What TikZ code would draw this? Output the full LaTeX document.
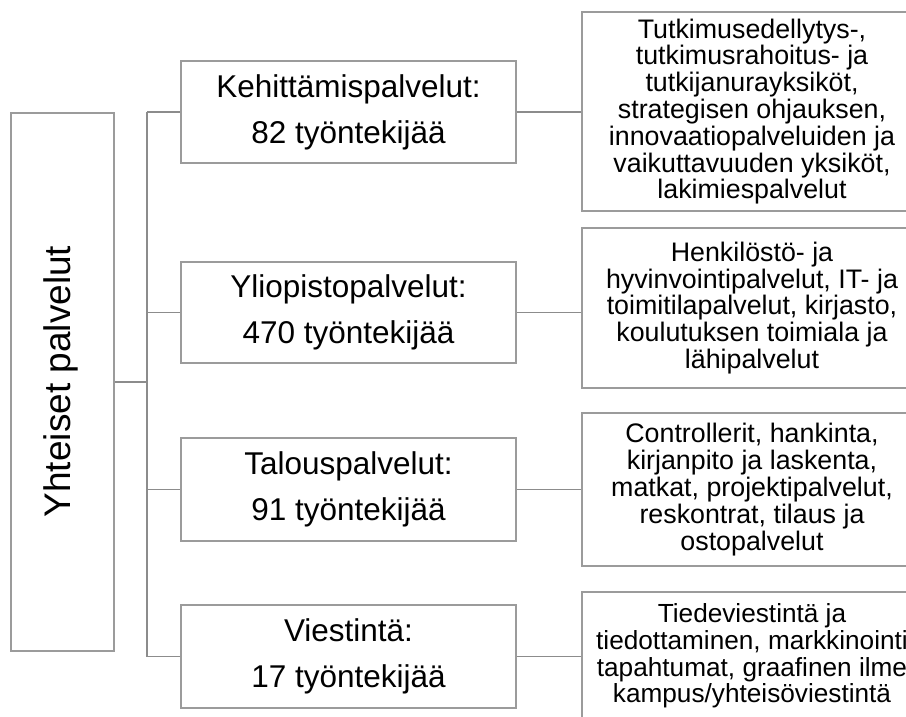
\documentclass[tikz,border=0pt]{standalone}
\usepackage{fontspec}
\setmainfont{Liberation Sans}
\definecolor{boxgray}{RGB}{155,155,155}
\definecolor{linegray}{RGB}{140,140,140}
\tikzset{
  box/.style={draw=boxgray, line width=1.9pt, fill=white, inner sep=0pt, align=center},
  midbox/.style={box, minimum width=335pt, minimum height=102pt,
    font=\fontsize{31.5}{46}\selectfont},
  rbox/.style={box, minimum width=340pt,
    font=\fontsize{26.8}{26.8}\selectfont},
  conn/.style={draw=linegray, line width=1.9pt},
}
\begin{document}
\begin{tikzpicture}[x=1pt,y=-1pt]
\clip (0,0) rectangle (906,716);
\fill[white] (0,0) rectangle (906,716);

% left box
\node[box, minimum width=103pt, minimum height=538pt] (ys) at (62.5,382) {};
\node[rotate=90, inner sep=0pt, font=\fontsize{37}{40}\selectfont] (yst) at (60.5,381.5) {Yhteiset palvelut};

% middle boxes
\node[midbox] (k) at (348.5,112) {Kehittämispalvelut:\\82 työntekijää};
\node[midbox, minimum height=101pt] (y) at (348.5,312.5) {Yliopistopalvelut:\\470 työntekijää};
\node[midbox, minimum height=103pt] (t) at (348.5,489.5) {Talouspalvelut:\\91 työntekijää};
\node[midbox, minimum height=103pt] (v) at (348.5,656.5) {Viestintä:\\17 työntekijää};

% right boxes
\node[rbox, minimum height=199pt] (r1) at (752,111.5) {Tutkimusedellytys-,\\tutkimusrahoitus- ja\\tutkijanurayksiköt,\\strategisen ohjauksen,\\innovaatiopalveluiden ja\\vaikuttavuuden yksiköt,\\lakimiespalvelut};
\node[rbox, minimum height=160pt] (r2) at (752,308) {Henkilöstö- ja\\hyvinvointipalvelut, IT- ja\\toimitilapalvelut, kirjasto,\\koulutuksen toimiala ja\\lähipalvelut};
\node[rbox, minimum height=153pt] (r3) at (752,489.5) {Controllerit, hankinta,\\kirjanpito ja laskenta,\\matkat, projektipalvelut,\\reskontrat, tilaus ja\\ostopalvelut};
\node[rbox, minimum height=128pt, font=\fontsize{26.2}{26.8}\selectfont] (r4) at (752,656) {Tiedeviestintä ja\\tiedottaminen, markkinointi\\tapahtumat, graafinen ilme\\kampus/yhteisöviestintä};

% trunk
\coordinate (trTop) at (147,112);
\coordinate (trBot) at (147,656.5);
\draw[conn] (ys.east) -- (ys.east -| trTop);
\draw[conn] (trTop) -- (trBot);
\draw[conn] (trTop) -- (k.west);
\draw[conn] (y.west -| trTop) -- (y.west);
\draw[conn] (t.west -| trTop) -- (t.west);
\draw[conn] (trBot) -- (v.west);

% middle to right
\draw[conn] (k.east) -- (r1.west |- k.east);
\draw[conn] (y.east) -- (r2.west |- y.east);
\draw[conn] (t.east) -- (r3.west |- t.east);
\draw[conn] (v.east) -- (r4.west |- v.east);
\end{tikzpicture}
\end{document}
